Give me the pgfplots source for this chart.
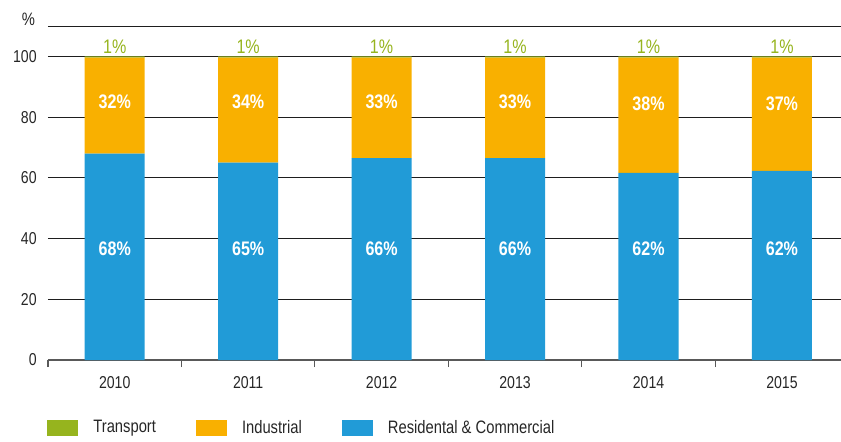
\documentclass[border=0pt]{standalone}
\usepackage{fontspec}
\setmainfont{Liberation Sans}[FakeStretch=0.82]
\usepackage{pgfplots}
\pgfplotsset{compat=1.18}
\definecolor{resblue}{RGB}{33,155,215}
\definecolor{indorange}{RGB}{249,176,0}
\definecolor{trgreen}{RGB}{150,180,30}
\definecolor{gridc}{RGB}{30,30,30}
\begin{document}
\begin{tikzpicture}
\path[use as bounding box] (-24pt,-40.5pt) rectangle (396.5pt,180pt);
\begin{axis}[
  scale only axis, width=396.5pt, height=167pt,
  at={(0,0)}, anchor=south west, clip=false,
  ybar stacked, bar width=0.45,
  xmin=-0.5, xmax=5.4425, ymin=0, ymax=110,
  xtick={0,...,5}, xticklabels={2010,2011,2012,2013,2014,2015},
  minor xtick={-0.5,0.5,1.5,2.5,3.5,4.5},
  ytick={0,20,...,100},
  extra y ticks={110}, extra y tick labels={}, extra y tick style={grid=major},
  ymajorgrids,
  grid style={gridc, line width=0.5pt},
  axis x line*=bottom, axis y line*=left,
  y axis line style={draw=none},
  x axis line style={color=black!65, line width=1pt},
  major tick length=0pt, minor tick length=3.5pt, tick align=outside,
  minor tick style={black!65, line width=0.6pt},
  /pgf/number format/assume math mode=true,
  ticklabel style={font=\fontsize{8.6}{10}\selectfont, text=black!85},
  yticklabel style={inner sep=0pt, anchor=east, xshift=-5.5pt},
  xticklabel style={inner sep=0pt, anchor=north, yshift=-8pt},
  legend style={at={(0,0)}, anchor=west, xshift=-0.5pt, yshift=-34pt,
    draw=none, fill=none, inner sep=0pt, legend columns=3,
    nodes={inner sep=0pt},
    /tikz/every odd column/.append style={column sep=7.5pt},
    /tikz/every even column/.append style={column sep=20pt},
    font=\fontsize{9}{10}\selectfont, text=black!85},
  legend image code/.code={\fill[#1] (0pt,-4pt) rectangle (15.5pt,4pt);},
  reverse legend,
]
\addplot[draw=none, fill=resblue] coordinates {(0,68) (1,65) (2,66.5) (3,66.5) (4,61.6) (5,62.3)};
\addplot[draw=none, fill=indorange] coordinates {(0,31.6) (1,34.6) (2,33.1) (3,33.1) (4,38.0) (5,37.3)};
\addplot[draw=none, fill=trgreen] coordinates {(0,0.4) (1,0.4) (2,0.4) (3,0.4) (4,0.4) (5,0.4)};
\legend{Residental \& Commercial, Industrial, Transport}
\coordinate (r0) at (axis cs:0,36.6);
\coordinate (r1) at (axis cs:1,36.6);
\coordinate (r2) at (axis cs:2,36.6);
\coordinate (r3) at (axis cs:3,36.6);
\coordinate (r4) at (axis cs:4,36.6);
\coordinate (r5) at (axis cs:5,36.6);
\coordinate (i0) at (axis cs:0,85);
\coordinate (i1) at (axis cs:1,85);
\coordinate (i2) at (axis cs:2,85);
\coordinate (i3) at (axis cs:3,85);
\coordinate (i4) at (axis cs:4,84.3);
\coordinate (i5) at (axis cs:5,84.3);
\coordinate (t0) at (axis cs:0,103.2);
\coordinate (t1) at (axis cs:1,103.2);
\coordinate (t2) at (axis cs:2,103.2);
\coordinate (t3) at (axis cs:3,103.2);
\coordinate (t4) at (axis cs:4,103.2);
\coordinate (t5) at (axis cs:5,103.2);
\coordinate (pc) at (rel axis cs:0,1);
\end{axis}
\tikzset{lab/.style={font=\bfseries\fontsize{9.8}{11}\selectfont, text=white},
         tlab/.style={font=\fontsize{9.8}{11}\selectfont, text=trgreen}}
\node[lab] at (r0) {68\%};
\node[lab] at (r1) {65\%};
\node[lab] at (r2) {66\%};
\node[lab] at (r3) {66\%};
\node[lab] at (r4) {62\%};
\node[lab] at (r5) {62\%};
\node[lab] at (i0) {32\%};
\node[lab] at (i1) {34\%};
\node[lab] at (i2) {33\%};
\node[lab] at (i3) {33\%};
\node[lab] at (i4) {38\%};
\node[lab] at (i5) {37\%};
\node[tlab] at (t0) {1\%};
\node[tlab] at (t1) {1\%};
\node[tlab] at (t2) {1\%};
\node[tlab] at (t3) {1\%};
\node[tlab] at (t4) {1\%};
\node[tlab] at (t5) {1\%};
\node[font=\fontsize{9}{10}\selectfont, text=black!85] at (pc) [xshift=-9.75pt, yshift=3.5pt] {\%};
\end{tikzpicture}
\end{document}
